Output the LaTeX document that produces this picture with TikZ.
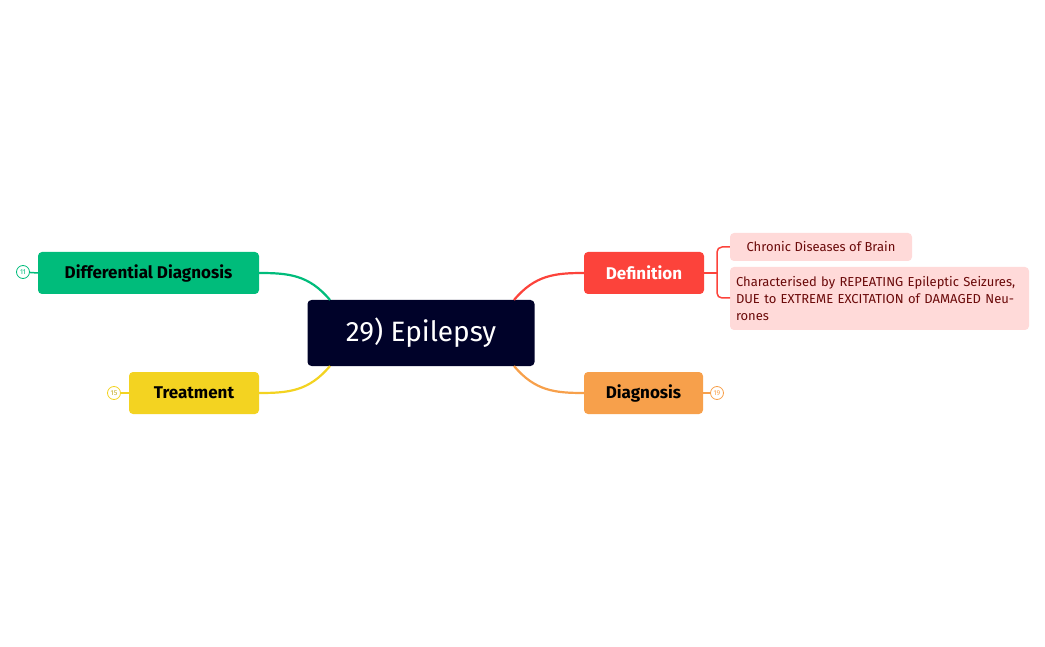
\documentclass[tikz,border=0pt]{standalone}
\usepackage{fontspec}
\setmainfont{Fira Sans}
\begin{document}
\begin{tikzpicture}[x=1pt,y=-1pt,
 box/.style={rounded corners=4pt,inner sep=0pt,font=\bfseries\fontsize{17}{20}\selectfont},
 leaf/.style={rounded corners=4pt,fill=red!15,text=red!45!black,inner sep=0pt,font=\fontsize{13}{17}\selectfont},
 num/.style={circle,draw,line width=0.8pt,inner sep=0pt,minimum size=13pt,font=\fontsize{7}{8}\selectfont},
 con/.style={line width=2.2pt}]
\useasboundingbox (0,0) rectangle (1045,647);
\definecolor{cen}{HTML}{000229}
\definecolor{gre}{HTML}{00BC7B}
\definecolor{yel}{HTML}{F3D321}
\definecolor{reD}{HTML}{FC433B}
\definecolor{ora}{HTML}{F7A04B}
\definecolor{pk}{HTML}{FFDAD9}
\definecolor{dr}{HTML}{6B0A0A}
\node[box,fill=cen,text=white,minimum width=227pt,minimum height=66pt,font=\fontsize{28}{32}\selectfont] (c) at (421,333) {29) Epilepsy};
\node[box,fill=reD,text=white,minimum width=120pt,minimum height=42pt] (def) at (644,273) {Definition};
\node[box,fill=ora,minimum width=119pt,minimum height=42pt] (dia) at (643.5,393) {Diagnosis};
\node[box,fill=gre,minimum width=221pt,minimum height=42pt] (dd) at (148.5,273) {Differential Diagnosis};
\node[box,fill=yel,minimum width=130pt,minimum height=42pt] (tr) at (194,393) {Treatment};
\node[leaf,fill=pk,text=dr,minimum width=182pt,minimum height=28pt] (l1) at (821,247) {Chronic Diseases of Brain};
\node[leaf,fill=pk,text=dr,minimum width=299pt,minimum height=63pt,align=left,text width=287pt] (l2) at (879.5,298.5) {Characterised by REPEATING Epileptic Seizures, DUE to EXTREME EXCITATION of DAMAGED Neurones};
\node[num,draw=gre,text=gre] (n11) at (23,272) {11};
\node[num,draw=yel,text=yel!80!black] (n15) at (114,393) {15};
\node[num,draw=ora,text=ora] (n19) at (717,393) {19};
\draw[con,draw=reD] (514,300) .. controls (535,275) and (555,273) .. (def.west);
\draw[con,draw=ora] (514,366) .. controls (535,391) and (555,393) .. (dia.west);
\draw[con,draw=gre] (330,300) .. controls (309,275) and (289,273) .. (dd.east);
\draw[con,draw=yel] (330,366) .. controls (309,391) and (289,393) .. (tr.east);
\draw[line width=1.5pt,draw=gre] (n11) -- (dd.west);
\draw[line width=1.5pt,draw=yel] (n15) -- (tr.west);
\draw[line width=1.5pt,draw=ora] (dia.east) -- (n19);
\coordinate (j) at (717,273);
\draw[line width=1.5pt,draw=reD] (def.east) -- (j);
\draw[line width=1.5pt,draw=reD,rounded corners=5pt] (l1.west) -- (717,247) -- (717,298) -- (730,298);
\end{tikzpicture}
\end{document}
